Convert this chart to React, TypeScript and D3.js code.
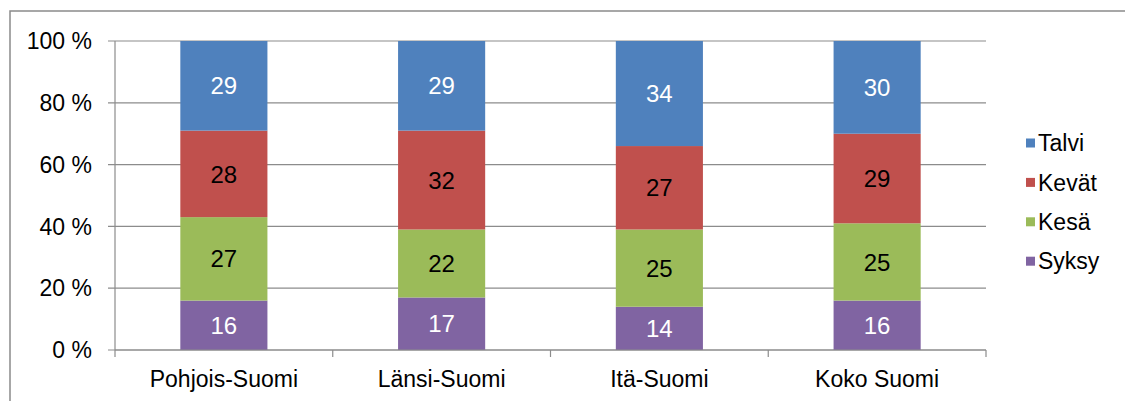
import React from "react";
import * as d3 from "d3";

const regions = ["Pohjois-Suomi", "Länsi-Suomi", "Itä-Suomi", "Koko Suomi"];
const seasons = ["Syksy", "Kesä", "Kevät", "Talvi"];
const talvi = [29, 29, 34, 30];
const kevat = [28, 32, 27, 29];
const kesa = [27, 22, 25, 25];
const syksy = [16, 17, 14, 16];
const yTicks = [0, 20, 40, 60, 80, 100];

const colors: Record<string, string> = {
  Talvi: "#4F81BD",
  Kevät: "#C0504D",
  Kesä: "#9BBB59",
  Syksy: "#8064A2",
};
const labelColors: Record<string, string> = {
  Talvi: "#ffffff",
  Kevät: "#000000",
  Kesä: "#000000",
  Syksy: "#ffffff",
};

const legendOrder = ["Talvi", "Kevät", "Kesä", "Syksy"];

const W = 1125;
const H = 401;
const margin = { left: 115, right: W - 986, top: 41, bottom: H - 350 };
const font = "'Liberation Sans', Arial, sans-serif";

export default function App() {
  const rows = regions.map((r, i) => ({
    region: r,
    Talvi: talvi[i],
    Kevät: kevat[i],
    Kesä: kesa[i],
    Syksy: syksy[i],
  }));

  const stack = d3.stack<any>().keys(seasons);
  const series = stack(rows);

  const x = d3
    .scaleBand()
    .domain(regions)
    .range([margin.left, W - margin.right])
    .paddingInner(0.6)
    .paddingOuter(0.3);
  const band = d3.scaleBand().domain(regions).range([margin.left, W - margin.right]);
  const y = d3.scaleLinear().domain([0, 100]).range([H - margin.bottom, margin.top]);

  const gridColor = "#8c8c8c";
  const x0 = margin.left;
  const x1 = W - margin.right;

  return (
    <svg
      width={W}
      height={H}
      style={{ position: "absolute", left: 0, top: 0, background: "#fff" }}
      fontFamily={font}
    >
      <rect x={10} y={11} width={W + 20} height={H + 20} fill="#fff" stroke="#8a8a8a" strokeWidth={1.5} />

      {yTicks.map((t) => (
        <g key={t}>
          <line x1={x0 - 7} x2={x1} y1={y(t)} y2={y(t)} stroke={gridColor} strokeWidth={1.2} />
          <text x={92} y={y(t)} dy="0.36em" textAnchor="end" fontSize={23} fill="#000">
            {`${t} %`}
          </text>
        </g>
      ))}

      <line x1={x0} x2={x0} y1={y(100)} y2={y(0)} stroke={gridColor} strokeWidth={1.2} />

      {series.map((s) => (
        <g key={s.key}>
          {s.map((d: any) => {
            const top = y(d[1]);
            const bot = y(d[0]);
            return (
              <g key={d.data.region}>
                <rect
                  x={x(d.data.region)}
                  y={top}
                  width={x.bandwidth()}
                  height={bot - top}
                  fill={colors[s.key]}
                />
                <text
                  x={(x(d.data.region) as number) + x.bandwidth() / 2}
                  y={(top + bot) / 2}
                  dy="0.36em"
                  textAnchor="middle"
                  fontSize={24}
                  fill={labelColors[s.key]}
                >
                  {d.data[s.key]}
                </text>
              </g>
            );
          })}
        </g>
      ))}

      <line x1={x0} x2={x1} y1={y(0)} y2={y(0)} stroke={gridColor} strokeWidth={1.2} />
      {[...regions.map((r) => band(r) as number), x1].map((bx, i) => (
        <line key={i} x1={bx} x2={bx} y1={y(0)} y2={y(0) + 7} stroke={gridColor} strokeWidth={1.2} />
      ))}

      {regions.map((r) => (
        <text
          key={r}
          x={(band(r) as number) + band.bandwidth() / 2}
          y={387}
          textAnchor="middle"
          fontSize={23}
          fill="#000"
        >
          {r}
        </text>
      ))}

      {legendOrder.map((k, i) => (
        <g key={k} transform={`translate(1026, ${143 + i * 39.4})`}>
          <rect x={0} y={-4.5} width={9} height={9} fill={colors[k]} />
          <text x={12} y={0} dy="0.36em" fontSize={23} fill="#000">
            {k}
          </text>
        </g>
      ))}
    </svg>
  );
}
